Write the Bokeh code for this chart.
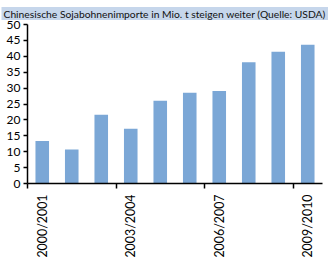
import math
from bokeh.plotting import figure
from bokeh.models import Range1d, FixedTicker, LinearAxis
from bokeh.embed import file_html
from bokeh.resources import INLINE

seasons = ["2000/2001", "2001/2002", "2002/2003", "2003/2004", "2004/2005",
           "2005/2006", "2006/2007", "2007/2008", "2008/2009", "2009/2010"]
imports = [13.4, 10.7, 21.6, 17.2, 26.0, 28.5, 29.1, 38.1, 41.4, 43.6]
shown_labels = ["2000/2001", "2003/2004", "2006/2007", "2009/2010"]
y_ticks = [0, 5, 10, 15, 20, 25, 30, 35, 40, 45, 50]
title_text = "Chinesische Sojabohnenimporte in Mio. t steigen weiter (Quelle: USDA)"

FONT = "Lato"
BAR = "#7ba7d6"

n = len(seasons)
xs = [i + 0.5 for i in range(n)]

p = figure(width=328, height=260, output_backend="svg", toolbar_location=None,
           x_range=Range1d(0, n), y_range=Range1d(0, 50),
           x_axis_type=None, min_border_left=27, min_border_right=6,
           min_border_top=22, min_border_bottom=75)
p.outline_line_color = None
p.grid.visible = False
p.background_fill_color = "white"
p.border_fill_color = "white"

p.vbar(x=xs, top=imports, width=0.46, fill_color=BAR, line_color=None)

# title strip
p.title.text = title_text
p.title.align = "left"
p.title.offset = -26
p.title.standoff = 9
p.title.text_font = FONT
p.title.text_font_size = "10.3px"
p.title.text_font_style = "normal"
p.title.text_color = "#111111"
p.title.background_fill_color = "#c6d6eb"
p.title.padding = dict(left=2, right=40, top=1, bottom=0)

# y axis
ya = p.yaxis[0]
ya.ticker = FixedTicker(ticks=y_ticks)
ya.minor_tick_line_color = None
ya.major_tick_in = 0
ya.major_tick_out = 4
ya.axis_line_width = 1.5
ya.major_tick_line_width = 1.5
ya.axis_line_color = "black"
ya.major_tick_line_color = "black"
ya.major_label_text_font = FONT
ya.major_label_text_font_size = "12px"
ya.major_label_text_color = "black"
ya.major_label_standoff = 3

# x axis line with boundary ticks
xa1 = LinearAxis(ticker=FixedTicker(ticks=[0, 3, 6, 9]),
                 major_label_overrides={0: "", 3: "", 6: "", 9: ""})
xa1.major_label_text_font_size = "0px"
xa1.major_label_standoff = 0
xa1.major_tick_in = 0
xa1.major_tick_out = 5
xa1.minor_tick_line_color = None
xa1.axis_line_width = 1.5
xa1.major_tick_line_width = 1.5
xa1.axis_line_color = "black"
p.add_layout(xa1, "below")

# category labels
label_pos = [xs[seasons.index(s)] for s in shown_labels]
xa2 = LinearAxis(ticker=FixedTicker(ticks=label_pos),
                 major_label_overrides={pos: s for pos, s in zip(label_pos, shown_labels)})
xa2.axis_line_color = None
xa2.major_tick_line_color = None
xa2.minor_tick_line_color = None
xa2.major_tick_in = 0
xa2.major_tick_out = 0
xa2.major_label_orientation = math.pi / 2
xa2.major_label_text_font = FONT
xa2.major_label_text_font_size = "12.4px"
xa2.major_label_text_color = "black"
xa2.major_label_standoff = 6
p.add_layout(xa2, "below")

open("out.html", "w").write(file_html(p, INLINE))
